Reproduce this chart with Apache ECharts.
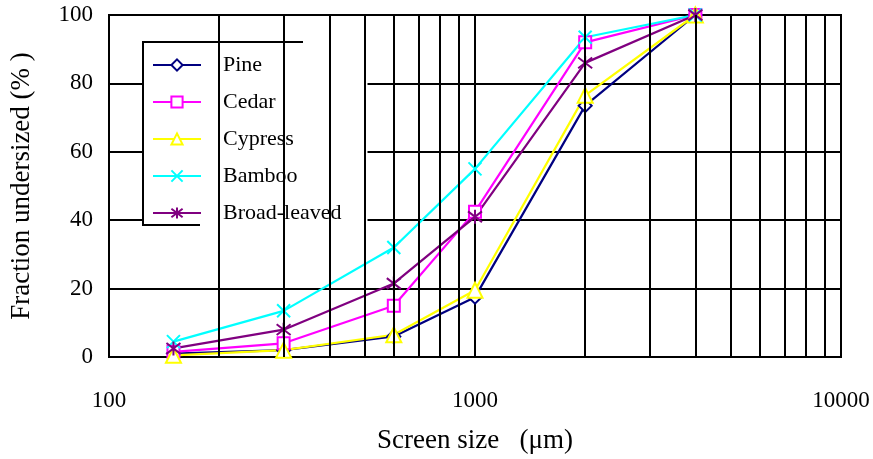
<!DOCTYPE html>
<html>
<head>
<meta charset="utf-8">
<script src="https://cdn.jsdelivr.net/npm/echarts@6/dist/echarts.min.js"></script>
<style>
  html, body { margin: 0; padding: 0; background: #ffffff; }
  #chart { width: 873px; height: 459px; }
</style>
</head>
<body>
<div id="chart"></div>
<script>
// Sieve analysis: cumulative fraction undersized per screen size
const screenSizes = [150, 300, 600, 1000, 2000, 4000];
const seriesNames = ['Pine', 'Cedar', 'Cypress', 'Bamboo', 'Broad-leaved'];
const pine = [1, 2, 6, 17.5, 73.5, 100];
const cedar = [1.5, 4, 15, 42.5, 92, 100];
const cypress = [0.5, 2, 6.5, 19.5, 76.5, 100];
const bamboo = [4.5, 13.5, 32, 55, 93.5, 100];
const broadLeaved = [2.5, 8, 21.5, 41, 86, 100];

// Intermediate log-decade grid lines
const minorGrid = [200, 300, 400, 500, 600, 700, 800, 900,
                   2000, 3000, 4000, 5000, 6000, 7000, 8000, 9000];

const FONT = '"Liberation Serif", "Times New Roman", serif';

const chart = echarts.init(document.getElementById('chart'), null, { renderer: 'canvas' });

function pairs(values) {
  return screenSizes.map((x, i) => [x, values[i]]);
}

function makeSeries(name, values, color, symbol, size, hollow) {
  return {
    name: name,
    type: 'line',
    data: pairs(values),
    symbol: symbol,
    symbolSize: size,
    showAllSymbol: true,
    z: 3,
    lineStyle: { color: color, width: 2.2 },
    itemStyle: hollow
      ? { color: '#ffffff', borderColor: color, borderWidth: 2 }
      : { color: color, borderColor: color, borderWidth: 2 },
    emphasis: { disabled: true },
    animation: false
  };
}

const crossPath = 'path://M0,0L10,10M10,0L0,10';
const starPath = 'path://M0,0L10,10M10,0L0,10M5,-1.5L5,11.5';

const option = {
  animation: false,
  backgroundColor: '#ffffff',
  textStyle: { fontFamily: FONT },
  grid: {
    left: 109, right: 32, top: 15, bottom: 101,
    show: true, borderColor: '#000000', borderWidth: 2, backgroundColor: 'transparent'
  },
  legend: {
    data: seriesNames,
    orient: 'vertical',
    left: 143, top: 42,
    backgroundColor: '#ffffff',
    borderWidth: 0,
    padding: [12, 26, 10, 9],
    itemWidth: 48, itemHeight: 14,
    itemGap: 15,
    selectedMode: false,
    textStyle: { fontFamily: FONT, fontSize: 22, color: '#000000', padding: [0, 0, 0, 17] }
  },
  xAxis: {
    type: 'log',
    logBase: 10,
    min: 100, max: 10000,
    name: 'Screen size   (\u03bcm)',
    nameLocation: 'middle',
    nameGap: 70,
    nameTextStyle: { fontFamily: FONT, fontSize: 27, color: '#000000' },
    axisLine: { show: true, onZero: false, lineStyle: { color: '#000000', width: 2 } },
    axisTick: { show: false },
    axisLabel: {
      fontFamily: FONT, fontSize: 23, color: '#000000', margin: 32,
      formatter: v => String(Math.round(v))
    },
    splitLine: { show: true, lineStyle: { color: '#000000', width: 2 } },
    minorTick: { show: false },
    minorSplitLine: { show: false }
  },
  yAxis: {
    type: 'value',
    min: 0, max: 100, interval: 20,
    name: 'Fraction undersized (% )',
    nameLocation: 'middle',
    nameGap: 74,
    nameTextStyle: { fontFamily: FONT, fontSize: 27, color: '#000000' },
    axisLine: { show: true, lineStyle: { color: '#000000', width: 2 } },
    axisTick: { show: false },
    axisLabel: { fontFamily: FONT, fontSize: 23, color: '#000000', margin: 16 },
    splitLine: { show: true, lineStyle: { color: '#000000', width: 2 } }
  },
  graphic: [
    // partial frame around the legend box
    { type: 'line', z: 100, shape: { x1: 143, y1: 42, x2: 143, y2: 225 }, style: { stroke: '#000', lineWidth: 2 } },
    { type: 'line', z: 100, shape: { x1: 142, y1: 42, x2: 303, y2: 42 }, style: { stroke: '#000', lineWidth: 2 } },
    { type: 'line', z: 100, shape: { x1: 142, y1: 225, x2: 200, y2: 225 }, style: { stroke: '#000', lineWidth: 2 } }
  ],
  series: [
    {
      name: 'minor-grid',
      type: 'line',
      data: [],
      z: 1,
      silent: true,
      markLine: {
        silent: true,
        symbol: ['none', 'none'],
        label: { show: false },
        animation: false,
        lineStyle: { color: '#000000', width: 2, type: 'solid' },
        emphasis: { disabled: true },
        data: minorGrid.map(v => ({ xAxis: v }))
      }
    },
    makeSeries('Pine', pine, '#000080', 'diamond', 13, true),
    makeSeries('Cedar', cedar, '#ff00ff', 'rect', 12, true),
    makeSeries('Cypress', cypress, '#ffff00', 'triangle', 15, true),
    makeSeries('Bamboo', bamboo, '#00ffff', crossPath, 13, false),
    makeSeries('Broad-leaved', broadLeaved, '#800080', starPath, 14, false)
  ]
};

chart.setOption(option);
</script>
</body>
</html>
